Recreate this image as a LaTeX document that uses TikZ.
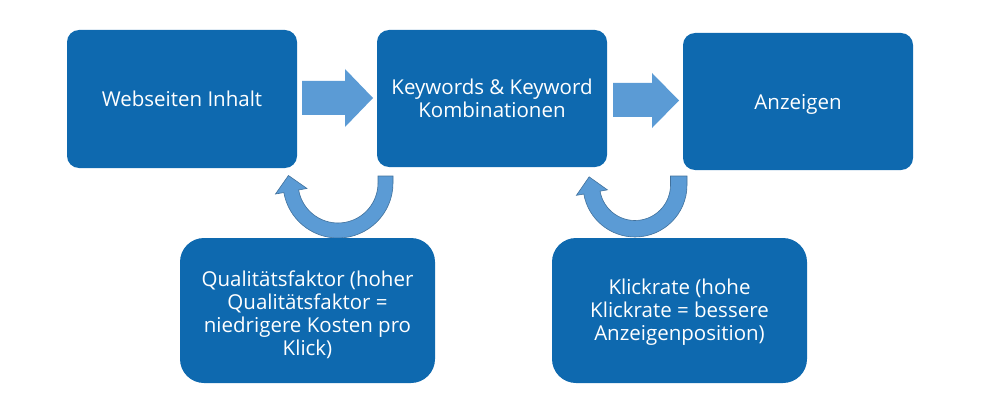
\documentclass[tikz,border=0pt]{standalone}
\usepackage{fontspec}
\setmainfont{Open Sans}
\usetikzlibrary{calc,backgrounds}
\definecolor{boxblue}{RGB}{14,105,175}
\definecolor{arrowfill}{RGB}{91,155,213}
\definecolor{arrowline}{RGB}{65,113,156}
\begin{document}
\begin{tikzpicture}[x=1pt,y=-1pt,
  boxtext/.style={text=white, font=\fontsize{20.5}{23}\selectfont, align=center},
  topbox/.style={boxtext, fill=boxblue, rounded corners=12pt, minimum width=230pt, minimum height=137pt,
    inner sep=0pt, outer sep=0pt},
  botbox/.style={topbox, rounded corners=24pt, minimum width=255pt, minimum height=145pt},
  blockarrow/.style={fill=arrowfill, draw=none},
  uturn/.style={fill=arrowfill, draw=arrowline, line width=0.6pt}]
\useasboundingbox (0,0) rectangle (1000,409);

\node[topbox, minimum height=138pt] (web) at (182,99) {Webseiten Inhalt};
\node[topbox] (kw) at (492,98.5) {Keywords \& Keyword\\Kombinationen};
\node[topbox, label={[boxtext, yshift=-3pt]center:Anzeigen}] (anz) at (798,101.5) {};
\node[botbox, label={[boxtext, yshift=-4pt]center:Qualitätsfaktor (hoher\\Qualitätsfaktor =\\niedrigere Kosten pro\\Klick)}] (qf) at (307.5,310.5) {};
\node[botbox, label={[boxtext, yshift=-2pt]center:Klickrate (hohe\\Klickrate = bessere\\Anzeigenposition)}] (kr) at (679.5,310.5) {};

\begin{scope}[on background layer]
  % right block arrows
  \fill[blockarrow] ($(web.east)+(5,-18)$) -- ++(43,0) -- ++(0,-12) -- ($(kw.west)+(-4,-0.5)$)
     -- ($(web.east)+(48,28)$) -- ++(0,-12) -- ($(web.east)+(5,16)$) -- cycle;
  \fill[blockarrow] ($(kw.east)+(6,-15.5)$) -- ++(39,0) -- ++(0,-10) -- ($(anz.west)+(-4,-1)$)
     -- ($(kw.east)+(45,29.5)$) -- ++(0,-11) -- ($(kw.east)+(6,18.5)$) -- cycle;
  % U-turn arrow 1
  \coordinate (c1) at (338,183);
  \draw[uturn] (378,176) -- (393,176) -- (393,183) arc[start angle=0,end angle=170,radius=55]
     -- ($(c1)+(170:63.5)$) -- ($(c1)+(170:47.5)+(260:16)$) -- ($(c1)+(170:31.5)$)
     -- ($(c1)+(170:40)$) arc[start angle=170,end angle=0,radius=40] -- cycle;
  % U-turn arrow 2
  \coordinate (c2) at (635,185);
  \draw[uturn] (670.5,176) -- (687,176) -- (687,185) arc[start angle=0,end angle=170,radius=52]
     -- ($(c2)+(170:59.5)$) -- ($(c2)+(170:43.75)+(260:16)$) -- ($(c2)+(170:28)$)
     -- ($(c2)+(170:35.5)$) arc[start angle=170,end angle=0,radius=35.5] -- cycle;
\end{scope}
\end{tikzpicture}
\end{document}
